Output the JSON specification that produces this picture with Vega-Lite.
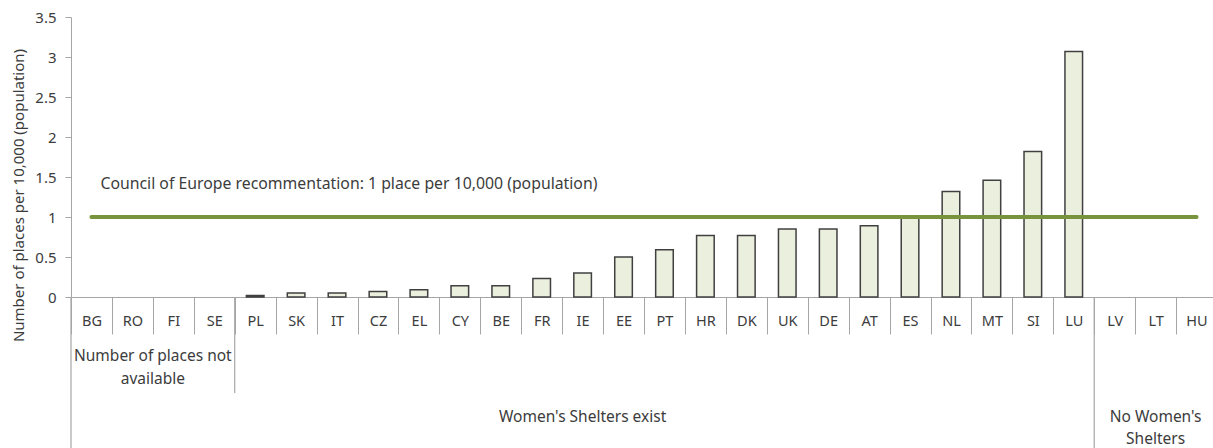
{
  "$schema": "https://vega.github.io/schema/vega-lite/v6.json",
  "autosize": {"type": "none"},
  "padding": {"left": 71, "top": 17, "right": 0, "bottom": 151},
  "width": 1146,
  "height": 280,
  "config": {
    "font": "Noto Sans",
    "view": {"stroke": null},
    "axis": {"labelFont": "Noto Sans", "titleFont": "Noto Sans"},
    "axisX": {
      "tickBand": "extent", "tickSize": 37, "tickColor": "#a6a6a6", "tickWidth": 1,
      "domainColor": "#a6a6a6", "domainWidth": 1.2, "labelAngle": 0, "labelFontSize": 14.5,
      "labelColor": "#3c3c3c", "labelPadding": -13, "labelBaseline": "middle"
    },
    "axisY": {
      "tickCount": 7, "format": ".1~f",
      "grid": false, "tickSize": 6, "tickColor": "#a6a6a6", "domainColor": "#a6a6a6",
      "labelPadding": 9, "labelFontSize": 15, "labelColor": "#3c3c3c",
      "titleFontSize": 15, "titleFontWeight": "normal", "titleColor": "#3c3c3c",
      "titleX": -53, "titleY": 178, "titleAngle": -90, "titleAlign": "center", "titleBaseline": "middle"
    }
  },
  "datasets": {
    "shelters": [
      {"country": "PL", "places": 0.02},
      {"country": "SK", "places": 0.05},
      {"country": "IT", "places": 0.05},
      {"country": "CZ", "places": 0.07},
      {"country": "EL", "places": 0.09},
      {"country": "CY", "places": 0.14},
      {"country": "BE", "places": 0.14},
      {"country": "FR", "places": 0.23},
      {"country": "IE", "places": 0.30},
      {"country": "EE", "places": 0.50},
      {"country": "PT", "places": 0.59},
      {"country": "HR", "places": 0.77},
      {"country": "DK", "places": 0.77},
      {"country": "UK", "places": 0.85},
      {"country": "DE", "places": 0.85},
      {"country": "AT", "places": 0.89},
      {"country": "ES", "places": 0.99},
      {"country": "NL", "places": 1.32},
      {"country": "MT", "places": 1.46},
      {"country": "SI", "places": 1.82},
      {"country": "LU", "places": 3.07}
    ],
    "recommendation": [
      {"country": "BG", "places": 1},
      {"country": "HU", "places": 1}
    ],
    "note": [
      {"country": "BG", "places": 1.41, "label": "Council of Europe  recommentation:  1 place per 10,000 (population)"}
    ],
    "separators": [
      {"country": "BG", "top": 0, "bottom": -1.89},
      {"country": "PL", "top": 0, "bottom": -1.2},
      {"country": "LV", "top": 0, "bottom": -1.89}
    ],
    "groupEdge": [
      {"country": "FI", "pos": -0.74, "label": "Number of places not"},
      {"country": "FI", "pos": -1.03, "label": "available"}
    ],
    "groupCenter": [
      {"country": "IE", "pos": -1.5, "label": "Women's Shelters exist"},
      {"country": "LT", "pos": -1.5, "label": "No Women's"},
      {"country": "LT", "pos": -1.78, "label": "Shelters"}
    ]
  },
  "layer": [
    {
      "data": {"name": "shelters"},
      "mark": {"type": "bar", "width": {"band": 0.43}, "fill": "#ebefdd", "stroke": "#404040", "strokeWidth": 1.5},
      "encoding": {
        "x": {
          "field": "country", "type": "nominal", "sort": null, "title": null,
          "scale": {"domain": ["BG","RO","FI","SE","PL","SK","IT","CZ","EL","CY","BE","FR","IE","EE","PT","HR","DK","UK","DE","AT","ES","NL","MT","SI","LU","LV","LT","HU"], "paddingInner": 0, "paddingOuter": 0}
        },
        "y": {
          "field": "places", "type": "quantitative",
          "title": "Number of places per 10,000 (population)",
          "scale": {"domain": [0, 3.5], "nice": false}
        }
      }
    },
    {
      "data": {"name": "recommendation"},
      "mark": {"type": "line", "color": "#77933c", "strokeWidth": 4, "strokeCap": "round"},
      "encoding": {
        "x": {"field": "country", "type": "nominal", "sort": null, "title": null},
        "y": {"field": "places", "type": "quantitative", "title": "Number of places per 10,000 (population)"}
      }
    },
    {
      "data": {"name": "note"},
      "mark": {"type": "text", "align": "left", "baseline": "middle", "dx": 9, "fontSize": 15.8, "color": "#3c3c3c"},
      "encoding": {
        "x": {"field": "country", "type": "nominal", "sort": null, "title": null},
        "y": {"field": "places", "type": "quantitative", "title": "Number of places per 10,000 (population)"},
        "text": {"field": "label"}
      }
    },
    {
      "data": {"name": "separators"},
      "mark": {"type": "rule", "color": "#a6a6a6", "strokeWidth": 1.2},
      "encoding": {
        "x": {"field": "country", "type": "nominal", "sort": null, "title": null, "bandPosition": 0},
        "y": {"field": "top", "type": "quantitative", "title": "Number of places per 10,000 (population)"},
        "y2": {"field": "bottom"}
      }
    },
    {
      "data": {"name": "groupEdge"},
      "mark": {"type": "text", "align": "center", "baseline": "middle", "fontSize": 15.5, "color": "#3c3c3c"},
      "encoding": {
        "x": {"field": "country", "type": "nominal", "sort": null, "title": null, "bandPosition": 0},
        "y": {"field": "pos", "type": "quantitative", "title": "Number of places per 10,000 (population)"},
        "text": {"field": "label"}
      }
    },
    {
      "data": {"name": "groupCenter"},
      "mark": {"type": "text", "align": "center", "baseline": "middle", "fontSize": 15.5, "color": "#3c3c3c"},
      "encoding": {
        "x": {"field": "country", "type": "nominal", "sort": null, "title": null},
        "y": {"field": "pos", "type": "quantitative", "title": "Number of places per 10,000 (population)"},
        "text": {"field": "label"}
      }
    }
  ]
}
